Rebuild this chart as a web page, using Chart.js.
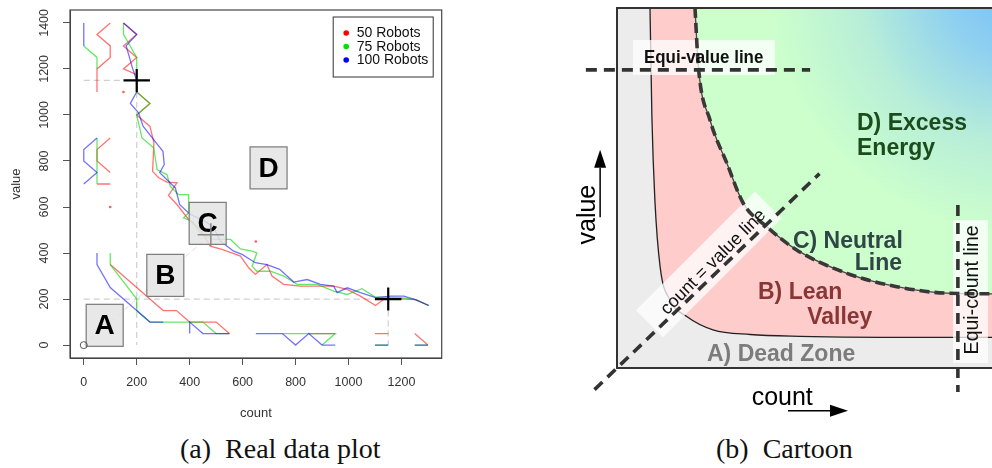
<!DOCTYPE html>
<html>
<head>
<meta charset="utf-8">
<title>Real data plot / Cartoon</title>
<script src="https://cdn.jsdelivr.net/npm/chart.js@4.4.1/dist/chart.umd.min.js"></script>
<style>
  html, body { margin: 0; padding: 0; background: #fff; }
  body { width: 992px; height: 468px; overflow: hidden; position: relative; }
  #panell-a { position: absolute; left: 0; top: 0; }
  #panell-b { position: absolute; left: 560px; top: 0; }
  .peu { position: absolute; top: 435px; font-family: "Liberation Serif", "Times New Roman", serif;
         font-size: 28px; line-height: 28px; color: #111; white-space: pre; }
</style>
</head>
<body>
<canvas id="panell-a" width="460" height="430"></canvas>
<canvas id="panell-b" width="450" height="430"></canvas>
<div class="peu" style="left:180px">(a)  Real data plot</div>
<div class="peu" style="left:716px">(b)  Cartoon</div>
<script>
var FONT = '"Liberation Sans", Arial, sans-serif';

// ---- (a) dades reals: punts [count, value], null = tall de línia ----
var nomsSeries = ['50 Robots', '75 Robots', '100 Robots'];
var ticsX = [0, 200, 400, 600, 800, 1000, 1200];
var ticsY = [0, 200, 400, 600, 800, 1000, 1200, 1400];

var robots50 = [
    [100, 1400], [50, 1350], [100, 1300], [100, 1250], [50, 1200], [50, 1100], null,
    [100, 900], [50, 850], [50, 800], [100, 750], null,
    [50, 700], [100, 700], null,
    [150, 1400], [200, 1350], [150, 1300], [200, 1250], [150, 1200], [200, 1175], [200, 1100], [250, 1050],
    [200, 1000], [250, 950], [265, 880], [260, 755], [283, 727], [314, 708], [352, 705], [320, 650],
    [352, 611], [396, 546], [440, 502], [478, 430], [522, 416], [592, 387], [623, 336], [648, 307],
    [692, 350], [711, 300], [755, 264], [818, 256], [944, 256], [995, 242], [1045, 213], [1102, 172],
    [1133, 199], [1196, 201], [1253, 198], [1303, 172], null,
    [100, 350], [300, 150], [350, 150], [400, 100], [500, 100], [550, 50], null,
    [850, 50], [950, 50], null,
    [1100, 50], [1150, 50], null,
    [1250, 50], [1300, 0]
];
var punts50 = [[100, 600], [150, 1100], [650, 450]];

var robots75 = [
    [0, 1300], [50, 1250], [50, 1200], null,
    [50, 900], [50, 700], null,
    [150, 1400], [150, 1350], [200, 1250], [200, 1100], [250, 1050], [200, 1000], [220, 900], [264, 857],
    [277, 763], [314, 741], [327, 690], [358, 654], [396, 654], [396, 575], [377, 553], [409, 538],
    [440, 488], [491, 459], [554, 459], [592, 418], [636, 408], [654, 401], [636, 343], [654, 321],
    [705, 321], [755, 300], [806, 264], [881, 264], [944, 235], [995, 220], [1051, 245], [1102, 208],
    [1196, 206], [1253, 198], [1303, 172], null,
    [100, 400], [100, 350], [200, 200], [200, 150], [250, 100], [450, 100], [500, 50], [550, 50], null,
    [750, 50], [950, 50], [900, 0], null,
    [1100, 0], [1150, 0], null,
    [1250, 0], [1300, 0]
];

var robots100 = [
    [0, 1400], [0, 1300], null,
    [50, 900], [0, 850], [0, 800], [50, 750], [0, 700], null,
    [150, 1400], [200, 1350], [160, 1300], [185, 1200], [200, 1150], [200, 1100], [176, 1050], [207, 1009],
    [224, 951], [264, 893], [299, 842], [304, 785], [287, 749], [320, 712], [346, 683], [362, 611],
    [400, 570], [466, 532], [491, 510], [516, 452], [566, 408], [598, 394], [648, 358], [692, 350],
    [740, 329], [793, 274], [844, 285], [894, 264], [944, 256], [957, 228], [995, 249], [1045, 228],
    [1102, 206], [1158, 213], [1209, 213], [1253, 198], [1303, 172], null,
    [50, 400], [50, 350], [100, 250], [250, 100], [300, 100], null,
    [400, 50], [400, 100], [450, 50], [550, 50], null,
    [650, 50], [750, 50], [800, 0], [850, 50], [900, 0], [950, 0], null,
    [1100, 0], [1150, 0], null,
    [1250, 0], [1300, 0]
];

var guies = [[0, 1150], [150, 1150], null, [200, 1100], [200, 0], null, [0, 200], [1150, 200], null, [1150, 150], [1150, 0]];
var diagonalGuia = [[0, 0], [480, 480]];
var creusNegres = [[150, 1150], [250, 1150], null, [200, 1200], [200, 1100], null,
                   [1100, 200], [1200, 200], null, [1150, 250], [1150, 150]];
var creuGrisa = [[430, 480], [530, 480], null, [480, 530], [480, 430]];
var origen = [[0, 0]];
var lletres = ['A', 'B', 'C', 'D'];

// ---- (b) cartoon: corbes en unitats arbitràries (0-100) ----
var corbaMorta = [[8.8, 100], [9.3, 70], [10.1, 46.7], [11.5, 28.1], [14.1, 18.9], [18.6, 14.3],
                  [25.6, 10.6], [35.5, 9.3], [48.8, 8.8], [88, 8.5], [103, 8.5]];
var corbaNeutra = [[20.8, 100], [21.7, 83.7], [24.8, 68.9], [29.3, 56.9], [33.7, 45.7], [39.9, 39.3],
                   [47.9, 32.8], [61.3, 26.3], [74.6, 22.6], [87.9, 20.8], [103, 20.6]];
var liniaEquiValor = [[-8.3, 82.8], [51.5, 82.8]];
var liniaDiagonal = [[-6, -6], [54, 54]];
var liniaEquiCount = [[90.9, 45.3], [90.9, -6.7]];

function punts(llista) {
    var out = [];
    for (var i = 0; i < llista.length; i++) {
        var p = llista[i];
        if (p === null) {
            out.push({x: NaN, y: NaN});
        } else {
            out.push({x: p[0], y: p[1]});
        }
    }
    return out;
}

function linia(dades, color, amplada, extra) {
    var ds = {
        data: punts(dades),
        borderColor: color,
        borderWidth: amplada,
        pointRadius: 0,
        fill: false,
        tension: 0,
        spanGaps: false
    };
    for (var k in extra) ds[k] = extra[k];
    return ds;
}

// ---------- panell (a) ----------
var posLletres = {A: [79, 86], B: [308, 303], C: [468, 529], D: [698, 770]};
var colorsLlegenda = ['#ff0000', '#00e000', '#0000ff'];

var pluginReal = {
    id: 'real',
    afterDatasetDraw: function(chart, args) {
        if (args.index !== 4) return; // després de la sèrie blava
        var ctx = chart.ctx, sx = chart.scales.x, sy = chart.scales.y;
        ctx.save();
        for (var i = 0; i < lletres.length; i++) {
            var p = posLletres[lletres[i]];
            var px = sx.getPixelForValue(p[0]), py = sy.getPixelForValue(p[1]);
            ctx.fillStyle = 'rgba(228,228,228,0.85)';
            ctx.fillRect(px - 18.5, py - 21, 37, 42);
            ctx.strokeStyle = '#7a7a7a';
            ctx.lineWidth = 1.2;
            ctx.strokeRect(px - 18.5, py - 21, 37, 42);
            ctx.fillStyle = '#000';
            ctx.font = 'bold 28px ' + FONT;
            ctx.textAlign = 'center';
            ctx.textBaseline = 'middle';
            ctx.fillText(lletres[i], px, py + 1);
        }
        ctx.restore();
    },
    afterDraw: function(chart) {
        var ctx = chart.ctx, a = chart.chartArea, sy = chart.scales.y;
        ctx.save();
        ctx.strokeStyle = '#444';
        ctx.lineWidth = 1.2;
        ctx.strokeRect(a.left, a.top, a.right - a.left, a.bottom - a.top);

        ctx.fillStyle = '#333';
        ctx.font = '12.5px ' + FONT;
        ctx.textAlign = 'center';
        ctx.textBaseline = 'middle';
        for (var i = 0; i < ticsY.length; i++) {
            var py = sy.getPixelForValue(ticsY[i]);
            ctx.save();
            ctx.translate(45, py);
            ctx.rotate(-Math.PI / 2);
            ctx.fillText(String(ticsY[i]), 0, 0);
            ctx.restore();
        }
        ctx.font = '13px ' + FONT;
        ctx.fillText('count', (a.left + a.right) / 2, 413);
        ctx.save();
        ctx.translate(16, (a.top + a.bottom) / 2);
        ctx.rotate(-Math.PI / 2);
        ctx.fillText('value', 0, 0);
        ctx.restore();

        // llegenda
        var x0 = a.right - 108.5, y0 = a.top + 7;
        ctx.fillStyle = '#fff';
        ctx.fillRect(x0, y0, 100, 60);
        ctx.strokeStyle = '#333';
        ctx.lineWidth = 1;
        ctx.strokeRect(x0, y0, 100, 60);
        ctx.font = '14px ' + FONT;
        ctx.textAlign = 'left';
        for (var j = 0; j < nomsSeries.length; j++) {
            var yy = y0 + 16 + j * 13.5;
            ctx.fillStyle = colorsLlegenda[j];
            ctx.beginPath();
            ctx.arc(x0 + 13, yy, 2.8, 0, Math.PI * 2);
            ctx.fill();
            ctx.fillStyle = '#111';
            ctx.fillText(nomsSeries[j], x0 + 23.5, yy + 0.5);
        }
        ctx.restore();
    }
};

new Chart(document.getElementById('panell-a').getContext('2d'), {
    type: 'line',
    data: {
        datasets: [
            linia(guies, '#cfcfcf', 1.2, {borderDash: [6, 4], order: 10}),
            linia(diagonalGuia, '#dadada', 1, {borderDash: [5, 4], order: 10}),
            linia(robots50, 'rgba(255,0,0,0.55)', 1.3, {order: 5}),
            linia(robots75, 'rgba(0,215,0,0.6)', 1.3, {order: 4}),
            linia(robots100, 'rgba(0,0,255,0.55)', 1.3, {order: 3}),
            {data: punts(punts50), showLine: false, pointRadius: 1.3, pointBorderWidth: 0,
             pointBackgroundColor: 'rgba(255,0,0,0.65)', order: 2},
            linia(creusNegres, '#000', 2.2, {order: 1}),
            linia(creuGrisa, '#8a8a8a', 1.5, {order: 1}),
            {data: punts(origen), showLine: false, pointRadius: 3.5, pointBorderWidth: 1,
             pointBorderColor: '#555', pointBackgroundColor: 'rgba(255,255,255,0)', order: 1}
        ]
    },
    options: {
        responsive: false,
        animation: false,
        devicePixelRatio: 1,
        layout: {padding: {top: 10, right: 18.3, left: 0, bottom: 0}},
        plugins: {legend: {display: false}, tooltip: {enabled: false}},
        scales: {
            x: {
                type: 'linear', min: -52, max: 1352,
                afterFit: function(s) { s.height = 72; },
                afterBuildTicks: function(s) { s.ticks = ticsX.map(function(v) { return {value: v}; }); },
                ticks: {color: '#333', font: {family: FONT, size: 12.5}, padding: 10, maxRotation: 0, autoSkip: false,
                        callback: function(v) { return String(v); }},
                grid: {drawOnChartArea: false, drawTicks: true, tickLength: 7, color: '#555', tickColor: '#555'},
                border: {display: true, color: '#444', width: 1}
            },
            y: {
                type: 'linear', min: -56, max: 1456,
                afterFit: function(s) { s.width = 70; },
                afterBuildTicks: function(s) { s.ticks = ticsY.map(function(v) { return {value: v}; }); },
                ticks: {display: false},
                grid: {drawOnChartArea: false, drawTicks: true, tickLength: 7, color: '#555', tickColor: '#555'},
                border: {display: true, color: '#444', width: 1}
            }
        }
    },
    plugins: [pluginReal]
});

// ---------- panell (b) ----------
function degradat(context) {
    var chart = context.chart, area = chart.chartArea;
    if (!area) return '#ccffcc';
    var cx = area.right + 20, cy = area.top - 25;
    var g = chart.ctx.createRadialGradient(cx, cy, 0, cx, cy, 250);
    g.addColorStop(0, '#70bef9');
    g.addColorStop(0.3, '#8fd0f0');
    g.addColorStop(0.65, '#b8eed8');
    g.addColorStop(1, '#ccffcc');
    return g;
}

var textosCartoon = [
    {t: 'D) Excess', u: 64, v: 66.1, c: '#1c4b1c', a: 'left'},
    {t: 'Energy', u: 64, v: 59.2, c: '#1c4b1c', a: 'left'},
    {t: 'C) Neutral', u: 46.9, v: 33.2, c: '#304646', a: 'left'},
    {t: 'Line', u: 76, v: 27.2, c: '#304646', a: 'right'},
    {t: 'B) Lean', u: 37.6, v: 19.1, c: '#883636', a: 'left'},
    {t: 'Valley', u: 50.7, v: 12.2, c: '#883636', a: 'left'},
    {t: 'A) Dead Zone', u: 24, v: 2.0, c: '#7c7c7c', a: 'left'}
];

function fletxa(ctx, x1, y1, x2, y2) {
    var ang = Math.atan2(y2 - y1, x2 - x1), llarg = 18, mig = 6;
    var bx = x2 - llarg * Math.cos(ang), by = y2 - llarg * Math.sin(ang);
    ctx.beginPath();
    ctx.moveTo(x1, y1);
    ctx.lineTo(bx, by);
    ctx.stroke();
    ctx.beginPath();
    ctx.moveTo(x2, y2);
    ctx.lineTo(bx + mig * Math.sin(ang), by - mig * Math.cos(ang));
    ctx.lineTo(bx - mig * Math.sin(ang), by + mig * Math.cos(ang));
    ctx.closePath();
    ctx.fill();
}

var pluginCartoon = {
    id: 'cartoon',
    beforeDatasetsDraw: function(chart) {
        var ctx = chart.ctx, a = chart.chartArea;
        ctx.save();
        ctx.fillStyle = '#ececec';
        ctx.fillRect(a.left, a.top, a.right - a.left, a.bottom - a.top);
        ctx.restore();
    },
    afterDatasetDraw: function(chart, args) {
        if (args.index !== 1) return;
        var ctx = chart.ctx, sx = chart.scales.x, sy = chart.scales.y;
        ctx.save();
        ctx.fillStyle = 'rgba(255,255,255,0.75)';
        // Equi-value
        var x1 = sx.getPixelForValue(4.3), x2 = sx.getPixelForValue(42.1);
        var y1 = sy.getPixelForValue(91.1), y2 = sy.getPixelForValue(81.4);
        ctx.fillRect(x1, y1, x2 - x1, y2 - y1);
        // Equi-count
        x1 = sx.getPixelForValue(89.6); x2 = sx.getPixelForValue(98.9);
        y1 = sy.getPixelForValue(41.1); y2 = sy.getPixelForValue(1.4);
        ctx.fillRect(x1, y1, x2 - x1, y2 - y1);
        // count = value
        ctx.translate(sx.getPixelForValue(24.5), sy.getPixelForValue(28.8));
        ctx.rotate(-Math.PI / 4);
        ctx.fillRect(-84, -19, 168, 38);
        ctx.restore();
    },
    afterDatasetsDraw: function(chart) {
        var ctx = chart.ctx, a = chart.chartArea, sx = chart.scales.x, sy = chart.scales.y;
        ctx.save();
        ctx.strokeStyle = '#333';
        ctx.lineWidth = 2;
        ctx.strokeRect(a.left, a.top, a.right - a.left, a.bottom - a.top);

        ctx.font = 'bold 23px ' + FONT;
        ctx.textBaseline = 'alphabetic';
        for (var i = 0; i < textosCartoon.length; i++) {
            var e = textosCartoon[i];
            ctx.fillStyle = e.c;
            ctx.textAlign = e.a;
            ctx.fillText(e.t, sx.getPixelForValue(e.u), sy.getPixelForValue(e.v));
        }

        ctx.fillStyle = '#111';
        // Equi-value line (condensada)
        ctx.save();
        ctx.translate(sx.getPixelForValue(7.2), sy.getPixelForValue(84.6));
        ctx.scale(0.89, 1);
        ctx.font = 'bold 19px ' + FONT;
        ctx.textAlign = 'left';
        ctx.fillText('Equi-value line', 0, 0);
        ctx.restore();
        // count = value line
        ctx.save();
        ctx.translate(sx.getPixelForValue(25.7), sy.getPixelForValue(29.4));
        ctx.rotate(-Math.PI / 4);
        ctx.font = '18px ' + FONT;
        ctx.textAlign = 'center';
        ctx.textBaseline = 'middle';
        ctx.fillText('count = value line', 0, 0);
        ctx.restore();
        // Equi-count line
        ctx.save();
        ctx.translate(sx.getPixelForValue(94.7), sy.getPixelForValue(21.7));
        ctx.rotate(-Math.PI / 2);
        ctx.font = '19.5px ' + FONT;
        ctx.textAlign = 'center';
        ctx.textBaseline = 'middle';
        ctx.fillText('Equi-count line', 0, 0);
        ctx.restore();

        // eixos
        ctx.fillStyle = '#000';
        ctx.font = '25px ' + FONT;
        ctx.textAlign = 'left';
        ctx.textBaseline = 'alphabetic';
        ctx.fillText('count', sx.getPixelForValue(35.9), sy.getPixelForValue(-10.3));
        ctx.save();
        ctx.translate(sx.getPixelForValue(-5.9), sy.getPixelForValue(42.6));
        ctx.rotate(-Math.PI / 2);
        ctx.textAlign = 'center';
        ctx.fillText('value', 0, 0);
        ctx.restore();
        ctx.strokeStyle = '#000';
        ctx.lineWidth = 1.5;
        fletxa(ctx, sx.getPixelForValue(45.6), sy.getPixelForValue(-11.9), sx.getPixelForValue(61.6), sy.getPixelForValue(-11.9));
        fletxa(ctx, sx.getPixelForValue(-4.5), sy.getPixelForValue(41.9), sx.getPixelForValue(-4.5), sy.getPixelForValue(60.6));
        ctx.restore();
    }
};

var tracat = {borderDash: [11, 7], clip: false};

new Chart(document.getElementById('panell-b').getContext('2d'), {
    type: 'line',
    data: {
        datasets: [
            linia(corbaMorta, '#222', 1.3, {fill: 'end', backgroundColor: '#ffcccc', cubicInterpolationMode: 'monotone', order: 6}),
            linia(corbaNeutra, '#444', 1.3, {fill: 'end', backgroundColor: degradat, cubicInterpolationMode: 'monotone', order: 5}),
            linia(corbaNeutra, '#383838', 3.6, {borderDash: [10, 5], cubicInterpolationMode: 'monotone', order: 4}),
            linia(liniaEquiValor, '#333', 3.6, Object.assign({order: 3}, tracat)),
            linia(liniaDiagonal, '#333', 3.6, Object.assign({order: 3}, tracat)),
            linia(liniaEquiCount, '#333', 3.6, Object.assign({order: 3}, tracat))
        ]
    },
    options: {
        responsive: false,
        animation: false,
        devicePixelRatio: 1,
        layout: {padding: {left: 57, top: 8, right: 10, bottom: 62}},
        plugins: {legend: {display: false}, tooltip: {enabled: false}},
        scales: {
            x: {type: 'linear', min: 0, max: 102.13, display: false},
            y: {type: 'linear', min: 0, max: 100, display: false}
        }
    },
    plugins: [pluginCartoon]
});
</script>
</body>
</html>
